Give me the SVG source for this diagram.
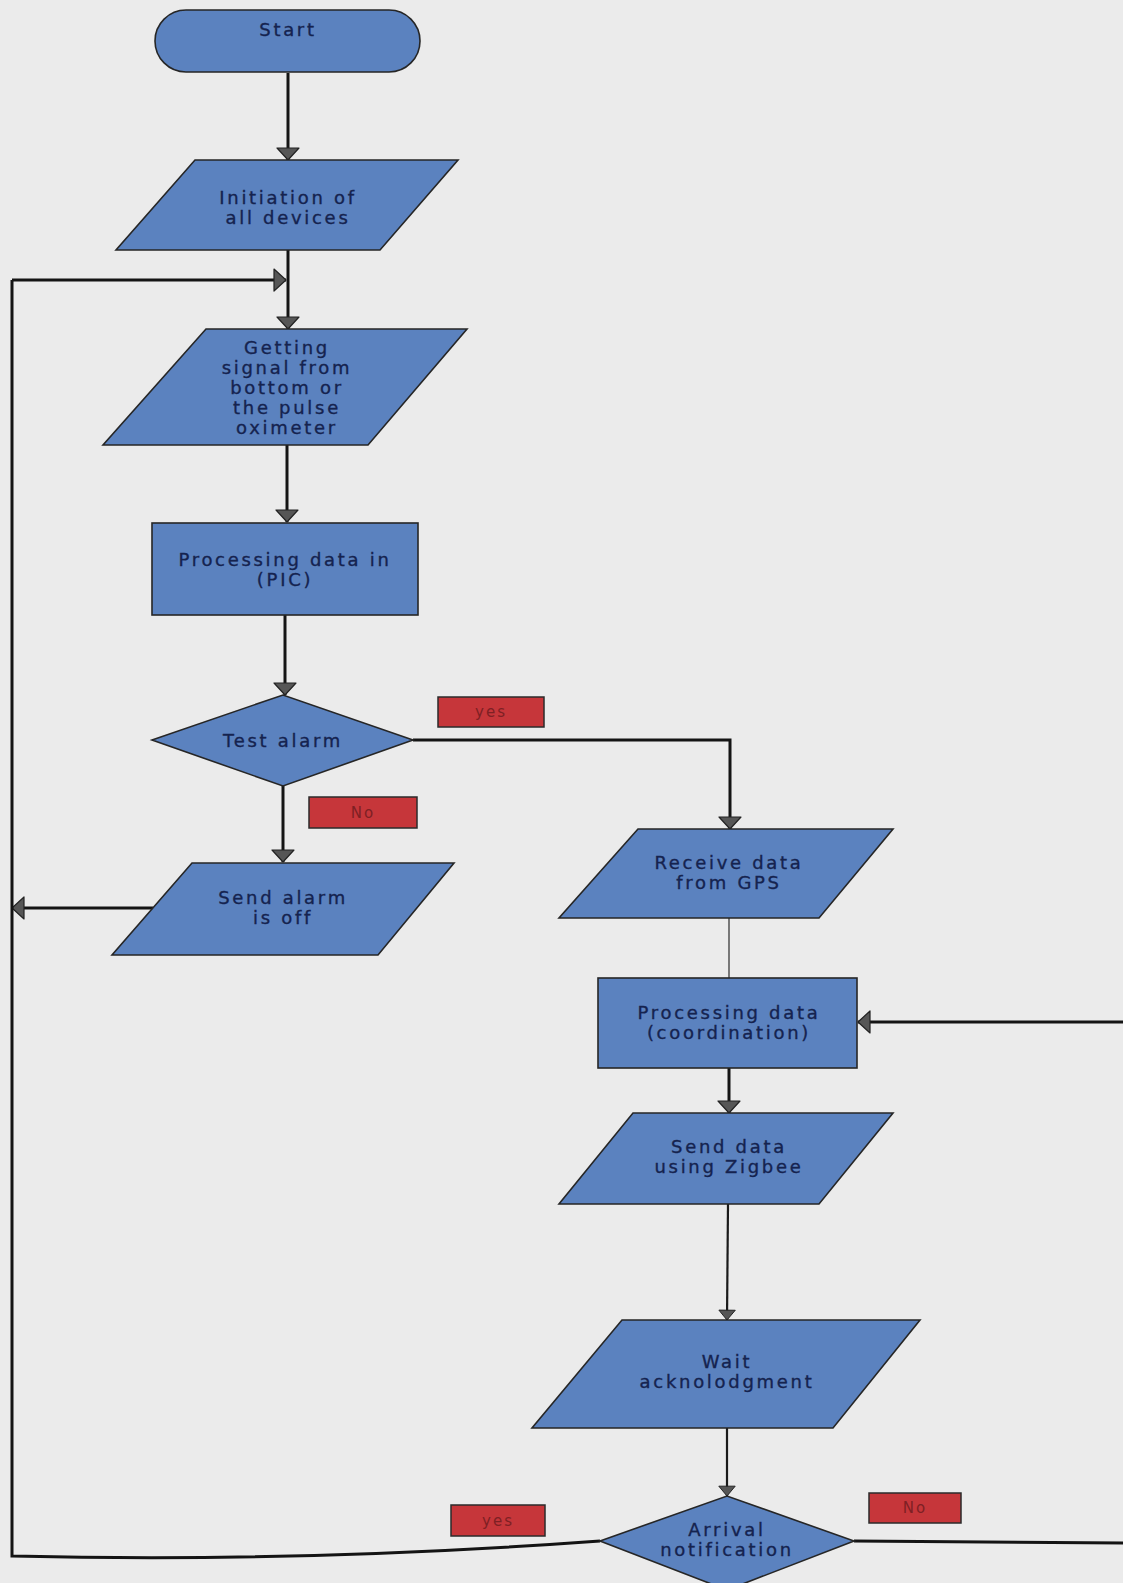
<svg xmlns="http://www.w3.org/2000/svg" width="1123" height="1583" viewBox="0 0 1123 1583">
  <defs>
    <style>
      .node { fill: #5b82bf; stroke: #262626; stroke-width: 1.6; stroke-linejoin: miter; }
      .label { font-family: "DejaVu Sans", "Liberation Sans", sans-serif; font-size: 18px; letter-spacing: 2.7px; fill: #15234f; stroke: #15234f; stroke-width: 0.35; text-anchor: middle; }
      .tag { fill: #c6363a; stroke: #2b2b2b; stroke-width: 1.5; }
      .tagtext { font-family: "DejaVu Sans", "Liberation Sans", sans-serif; font-size: 15px; letter-spacing: 2px; fill: #7e2024; text-anchor: middle; }
      .wire { fill: none; stroke: #141414; stroke-width: 3; }
      .thin { fill: none; stroke: #3a3a3a; stroke-width: 1.3; }
      .mid { fill: none; stroke: #1a1a1a; stroke-width: 2.2; }
    </style>
    <marker id="arrow" viewBox="0 0 14 24" refX="13" refY="12" markerWidth="14" markerHeight="24" markerUnits="userSpaceOnUse" orient="auto">
      <path d="M1,1 L13,12 L1,23 Z" fill="#565656" stroke="#222" stroke-width="1.2" stroke-linejoin="round"/>
    </marker>
    <marker id="arrowSmall" viewBox="0 0 14 22" refX="13" refY="11" markerWidth="12" markerHeight="18" markerUnits="userSpaceOnUse" orient="auto">
      <path d="M1,1 L13,11 L1,21 Z" fill="#565656" stroke="#222" stroke-width="1.2" stroke-linejoin="round"/>
    </marker>
  </defs>

  <!-- paper -->
  <rect x="0" y="0" width="1123" height="1583" fill="#ebebeb"/>

  <!-- connectors -->
  <g id="connectors">
    <path class="wire" d="M288,73 L288,160" marker-end="url(#arrow)"/>
    <path class="wire" d="M288,250 L288,329" marker-end="url(#arrow)"/>
    <path class="wire" d="M12,280 L286,280" marker-end="url(#arrow)"/>
    <path class="wire" d="M287,445 L287,522" marker-end="url(#arrow)"/>
    <path class="wire" d="M285,615 L285,695" marker-end="url(#arrow)"/>
    <path class="wire" d="M283,786 L283,862" marker-end="url(#arrow)"/>
    <path class="wire" d="M153,908 L12,908" marker-end="url(#arrow)"/>
    <path class="wire" d="M600,1541 Q300,1563 12,1556 L12,280"/>
    <path class="wire" d="M413,740 L730,740 L730,829" marker-end="url(#arrow)"/>
    <path class="thin" d="M729,918 L729,978"/>
    <path class="wire" d="M1123,1022 L858,1022" marker-end="url(#arrow)"/>
    <path class="wire" d="M729,1068 L729,1113" marker-end="url(#arrow)"/>
    <path class="mid" d="M728,1204 L727,1320" marker-end="url(#arrowSmall)"/>
    <path class="mid" d="M727,1428 L727,1496" marker-end="url(#arrowSmall)"/>
    <path class="wire" d="M854,1541 L1123,1543"/>
  </g>

  <!-- nodes -->
  <g id="start">
    <rect class="node" x="155" y="10" width="265" height="62" rx="31" ry="31"/>
    <text class="label" x="288" y="36">Start</text>
  </g>

  <g id="init-devices">
    <polygon class="node" points="195,160 458,160 380,250 116,250"/>
    <text class="label" x="288" y="204">Initiation of</text>
    <text class="label" x="288" y="224">all devices</text>
  </g>

  <g id="get-signal">
    <polygon class="node" points="206,329 467,329 368,445 103,445"/>
    <text class="label" x="287" y="354">Getting</text>
    <text class="label" x="287" y="374">signal from</text>
    <text class="label" x="287" y="394">bottom or</text>
    <text class="label" x="287" y="414">the pulse</text>
    <text class="label" x="287" y="434">oximeter</text>
  </g>

  <g id="process-pic">
    <rect class="node" x="152" y="523" width="266" height="92"/>
    <text class="label" x="285" y="566">Processing data in</text>
    <text class="label" x="285" y="586">(PIC)</text>
  </g>

  <g id="test-alarm">
    <polygon class="node" points="152,740 283,695 413,740 283,786"/>
    <text class="label" x="283" y="747">Test alarm</text>
  </g>

  <g id="tag-yes-alarm">
    <rect class="tag" x="438" y="697" width="106" height="30"/>
    <text class="tagtext" x="491" y="717">yes</text>
  </g>

  <g id="tag-no-alarm">
    <rect class="tag" x="309" y="797" width="108" height="31"/>
    <text class="tagtext" x="363" y="818">No</text>
  </g>

  <g id="alarm-off">
    <polygon class="node" points="192,863 454,863 378,955 112,955"/>
    <text class="label" x="283" y="904">Send alarm</text>
    <text class="label" x="283" y="924">is off</text>
  </g>

  <g id="gps-receive">
    <polygon class="node" points="638,829 893,829 819,918 559,918"/>
    <text class="label" x="729" y="869">Receive data</text>
    <text class="label" x="729" y="889">from GPS</text>
  </g>

  <g id="process-coord">
    <rect class="node" x="598" y="978" width="259" height="90"/>
    <text class="label" x="729" y="1019">Processing data</text>
    <text class="label" x="729" y="1039">(coordination)</text>
  </g>

  <g id="zigbee-send">
    <polygon class="node" points="633,1113 893,1113 819,1204 559,1204"/>
    <text class="label" x="729" y="1153">Send data</text>
    <text class="label" x="729" y="1173">using Zigbee</text>
  </g>

  <g id="wait-ack">
    <polygon class="node" points="622,1320 920,1320 833,1428 532,1428"/>
    <text class="label" x="727" y="1368">Wait</text>
    <text class="label" x="727" y="1388">acknolodgment</text>
  </g>

  <g id="arrival">
    <polygon class="node" points="600,1541 727,1496 854,1541 727,1590"/>
    <text class="label" x="727" y="1536">Arrival</text>
    <text class="label" x="727" y="1556">notification</text>
  </g>

  <g id="tag-yes-arrival">
    <rect class="tag" x="451" y="1505" width="94" height="31"/>
    <text class="tagtext" x="498" y="1526">yes</text>
  </g>

  <g id="tag-no-arrival">
    <rect class="tag" x="869" y="1493" width="92" height="30"/>
    <text class="tagtext" x="915" y="1513">No</text>
  </g>
</svg>
